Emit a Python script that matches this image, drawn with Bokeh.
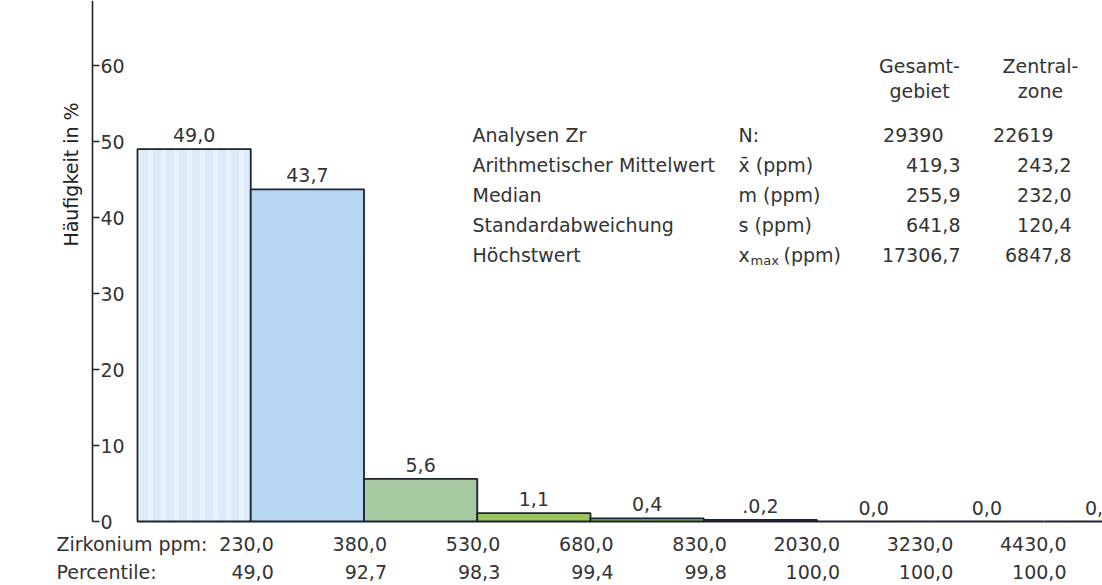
import numpy as np
from bokeh.plotting import figure
from bokeh.models import ColumnDataSource, LinearAxis, FixedTicker, Range1d
from bokeh.core.properties import value
from bokeh.embed import file_html
from bokeh.resources import INLINE

# ---------------- data ----------------
zirkonium_ppm = ["230,0", "380,0", "530,0", "680,0", "830,0", "2030,0", "3230,0", "4430,0"]
percentile = ["49,0", "92,7", "98,3", "99,4", "99,8", "100,0", "100,0", "100,0"]
frequency = [49.0, 43.7, 5.6, 1.1, 0.4, 0.2, 0.0, 0.0, 0.0]
frequency_labels = ["49,0", "43,7", "5,6", "1,1", "0,4", ".0,2", "0,0", "0,0", "0,0"]
bar_colors = ["#dcebf9", "#b7d6f2", "#a7c9a2", "#9dc45c", "#8cba58", "#2f6b2b",
              "#2f6b2b", "#2f6b2b", "#2f6b2b"]
bar_hatch = ["|", " ", " ", " ", " ", " ", " ", " ", " "]
y_ticks = [0, 10, 20, 30, 40, 50, 60]

row_names = ["Analysen Zr", "Arithmetischer Mittelwert", "Median",
             "Standardabweichung", "Höchstwert"]
row_symbols = ["N:", "x\u0304 (ppm)", "m (ppm)", "s (ppm)", "x"]
gesamtgebiet = ["29390", "419,3", "255,9", "641,8", "17306,7"]
zentralzone = ["22619", "243,2", "232,0", "120,4", "6847,8"]
col_head_1 = ["Gesamt-", "Zentral-"]
col_head_2 = ["gebiet", "zone"]

# ---------------- layout (pixels of the picture) ----------------
W, H = 1102, 585
X0, XS = 137, 113.25  # px of bin edge 0, px per bin
Y0, YS = 521, 7.6     # px of 0 %, px per %


def X(px):
    return (px - X0) / XS


def Y(py):
    return (Y0 - py) / YS


FONT = value("DejaVu Sans")
FS = "19px"
TC = "#333333"

p = figure(width=W, height=H, x_range=Range1d(X(0), X(W)),
           y_range=Range1d(Y(H), Y(0)), min_border=0,
           toolbar_location=None, output_backend="svg",
           x_axis_type=None, y_axis_type=None, outline_line_color=None,
           background_fill_color="white", border_fill_color="white")

# y axis drawn at a fixed location, ticks and labels to its right
yax = LinearAxis(fixed_location=X(92), bounds=(0, Y(0)),
                 ticker=FixedTicker(ticks=y_ticks, minor_ticks=[]),
                 major_tick_in=0, major_tick_out=7, minor_tick_out=0, minor_tick_in=0,
                 major_label_standoff=1,
                 axis_line_color="#222222", axis_line_width=1.6,
                 major_tick_line_color="#222222", major_tick_line_width=1.4,
                 major_label_text_font="DejaVu Sans", major_label_text_font_size=FS,
                 major_label_text_color=TC)
p.add_layout(yax, "right")

# bars
n = len(frequency)
src = ColumnDataSource(dict(
    left=list(range(n)), right=[i + 1 for i in range(n)], top=frequency,
    bottom=[0] * n, color=bar_colors, hatch=bar_hatch,
    xc=[i + 0.5 for i in range(n)], label=frequency_labels))
p.quad(left="left", right="right", top="top", bottom="bottom", source=src,
       fill_color="color", line_color="#1d2230", line_width=1.8,
       hatch_pattern="hatch", hatch_color="white", hatch_alpha=0.4,
       hatch_scale=13, hatch_weight=5)
p.text(x="xc", y="top", text="label", source=src, text_align="center",
       text_baseline="middle", y_offset=-14, text_font=FONT,
       text_font_size=FS, text_color=TC)

# y axis title
p.text(x=[X(70)], y=[Y(174)], text=["Häufigkeit in %"], angle=np.pi / 2,
       text_align="center", text_baseline="middle", text_font=FONT,
       text_font_size=FS, text_color="#222222")

# class boundary rows
edges = list(range(1, len(zirkonium_ppm) + 1))
p.text(x=edges, y=[Y(543)] * len(edges), text=zirkonium_ppm, text_align="right",
       text_baseline="middle", x_offset=23, text_font=FONT, text_font_size=FS,
       text_color=TC)
p.text(x=edges, y=[Y(571)] * len(edges), text=percentile, text_align="right",
       text_baseline="middle", x_offset=23, text_font=FONT, text_font_size=FS,
       text_color=TC)
p.text(x=[X(56), X(56)], y=[Y(543), Y(571)], text=["Zirkonium ppm:", "Percentile:"],
       text_align="left", text_baseline="middle", text_font=FONT,
       text_font_size=FS, text_color=TC)

# statistics table
row_y = [134, 164, 194, 224, 254]
p.text(x=[X(919), X(1040)], y=[Y(65)] * 2, text=col_head_1, text_align="center",
       text_baseline="middle", text_font=FONT, text_font_size=FS, text_color=TC)
p.text(x=[X(919), X(1040)], y=[Y(90)] * 2, text=col_head_2, text_align="center",
       text_baseline="middle", text_font=FONT, text_font_size=FS, text_color=TC)
p.text(x=[X(472)] * 5, y=[Y(v) for v in row_y], text=row_names, text_align="left",
       text_baseline="middle", text_font=FONT, text_font_size=FS, text_color=TC)
p.text(x=[X(738)] * 5, y=[Y(v) for v in row_y], text=row_symbols, text_align="left",
       text_baseline="middle", text_font=FONT, text_font_size=FS, text_color=TC)
p.text(x=[X(750)], y=[Y(row_y[4] + 6)], text=["max"], text_align="left",
       text_baseline="middle", text_font=FONT, text_font_size="13px", text_color=TC)
p.text(x=[X(783)], y=[Y(row_y[4])], text=["(ppm)"], text_align="left",
       text_baseline="middle", text_font=FONT, text_font_size=FS, text_color=TC)
p.text(x=[X(943)] + [X(960)] * 4, y=[Y(v) for v in row_y], text=gesamtgebiet,
       text_align="right", text_baseline="middle", text_font=FONT,
       text_font_size=FS, text_color=TC)
p.text(x=[X(1053)] + [X(1071)] * 4, y=[Y(v) for v in row_y], text=zentralzone,
       text_align="right", text_baseline="middle", text_font=FONT,
       text_font_size=FS, text_color=TC)

open("out.html", "w").write(file_html(p, INLINE))
